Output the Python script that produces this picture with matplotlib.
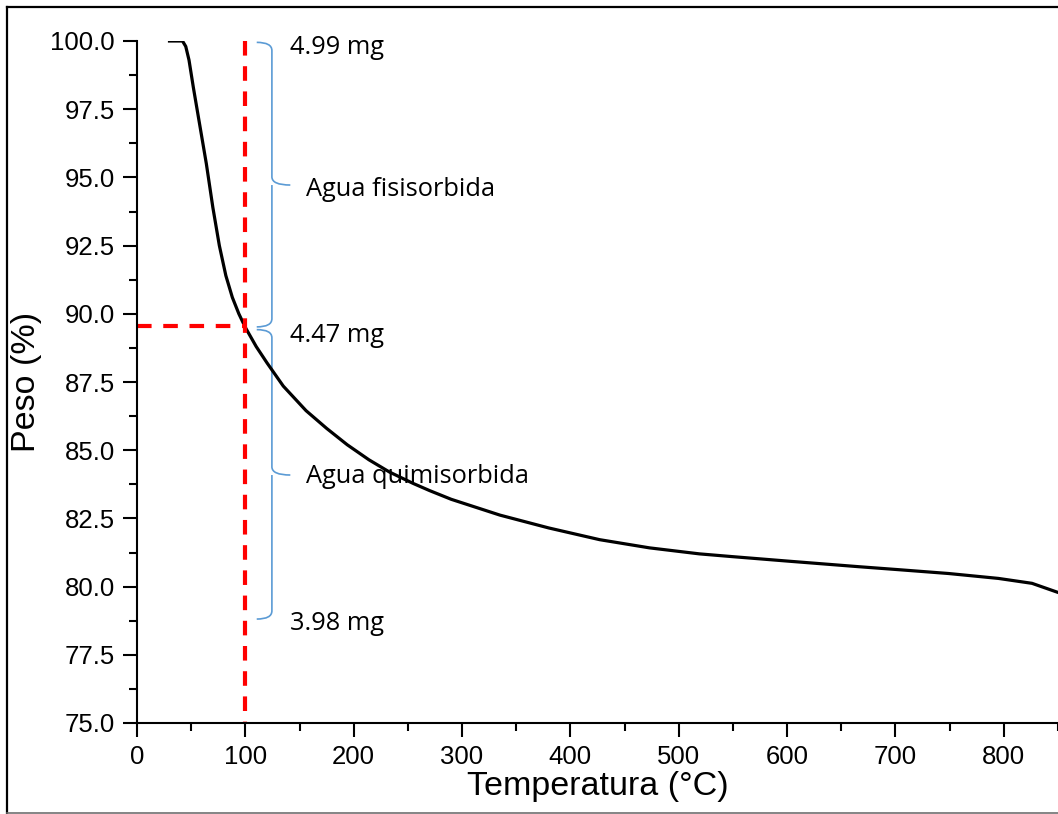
import numpy as np
import matplotlib.pyplot as plt
from matplotlib.path import Path
from matplotlib.patches import PathPatch
from matplotlib.ticker import MultipleLocator
from matplotlib.lines import Line2D

plt.rcParams['font.family'] = ['Liberation Sans', 'DejaVu Sans']

# TGA curve
temp = [30, 42, 45, 48, 52, 58, 64, 70, 76, 82, 88, 94, 100, 110, 120, 135,
        156, 175, 194, 214, 233, 255, 270, 290, 335, 380, 427, 473, 519,
        549, 602, 666, 703, 749, 795, 826, 849]
peso = [100, 100, 99.8, 99.3, 98.3, 96.9, 95.5, 93.9, 92.5, 91.4, 90.6, 90.0,
        89.5, 88.8, 88.2, 87.35, 86.45, 85.8, 85.2, 84.65, 84.2, 83.78,
        83.52, 83.2, 82.62, 82.15, 81.72, 81.42, 81.2, 81.1, 80.93,
        80.73, 80.62, 80.48, 80.3, 80.12, 79.8]

# marker at 100 °C
t_mark = 100
p_mark = 89.57

# braces: (top, tip, bottom) in % and their labels
braces = [(99.95, 94.72, 89.52), (89.42, 84.09, 78.81)]
brace_labels = ["Agua fisisorbida", "Agua quimisorbida"]
brace_label_y = [94.55, 84.05]
mass_labels = ["4.99 mg", "4.47 mg", "3.98 mg"]
mass_y = [99.75, 89.2, 78.65]

fig = plt.figure(figsize=(10.58, 8.14), dpi=100)
ax = fig.add_axes([137 / 1058, 91 / 814, 921 / 1058, 682 / 814])

ax.plot(temp, peso, color='black', lw=2.3, solid_joinstyle='round')

# dashes start from the top, as in the picture
ax.plot([t_mark, t_mark], [100, 75], color='#ff0000', lw=3,
        linestyle=(0, (3.5, 2.55)), clip_on=False)
ax.plot([0, t_mark], [p_mark, p_mark], color='#ff0000', lw=3,
        linestyle=(0, (3.5, 2.8)))

xl, xs, xt, r = 110.5, 124.5, 141.5, 0.3
for (top, mid, bot), lab, ly in zip(braces, brace_labels, brace_label_y):
    verts = [(xl, top), (xs, top), (xs, top - r), (xs, mid + r),
             (xs, mid), (xt, mid), (xs, mid), (xs, mid - r),
             (xs, bot + r), (xs, bot), (xl, bot)]
    codes = [Path.MOVETO, Path.CURVE3, Path.CURVE3, Path.LINETO,
             Path.CURVE3, Path.CURVE3, Path.MOVETO, Path.LINETO,
             Path.LINETO, Path.CURVE3, Path.CURVE3]
    ax.add_patch(PathPatch(Path(verts, codes), fill=False,
                           edgecolor='#5b9bd5', lw=1.2, clip_on=False))
    ax.text(156, ly, lab, fontsize=18.3, family='Open Sans',
            va='center', ha='left')

for lab, y in zip(mass_labels, mass_y):
    ax.text(141.5, y, lab, fontsize=18.3, family='Open Sans',
            va='center', ha='left')

ax.set_xlim(0, 850)
ax.set_ylim(75, 100)
ax.xaxis.set_major_locator(MultipleLocator(100))
ax.xaxis.set_minor_locator(MultipleLocator(50))
ax.yaxis.set_major_locator(MultipleLocator(2.5))
ax.yaxis.set_minor_locator(MultipleLocator(1.25))
ax.yaxis.set_major_formatter(lambda v, p: f"{v:.1f}")

for s in ['top', 'right']:
    ax.spines[s].set_visible(False)
for s in ['left', 'bottom']:
    ax.spines[s].set_linewidth(1.5)

ax.tick_params(which='major', length=10, width=1.5, labelsize=18.5,
               direction='out', pad=6)
ax.tick_params(which='minor', length=5.5, width=1.5, direction='out')

ax.set_xlabel('Temperatura (°C)', fontsize=24.5, labelpad=1)
ax.set_ylabel('Peso (%)', fontsize=24.5, labelpad=6)

# outer frame of the picture
fig.add_artist(Line2D([7 / 1058, 7 / 1058], [0.5 / 814, 807 / 814],
                      color='black', lw=1.6, transform=fig.transFigure))
fig.add_artist(Line2D([7 / 1058, 1], [807 / 814, 807 / 814],
                      color='black', lw=1.6, transform=fig.transFigure))
fig.add_artist(Line2D([7 / 1058, 1], [1 / 814, 1 / 814],
                      color='#707070', lw=1.2, transform=fig.transFigure))

fig.savefig('out.png', dpi=100)
